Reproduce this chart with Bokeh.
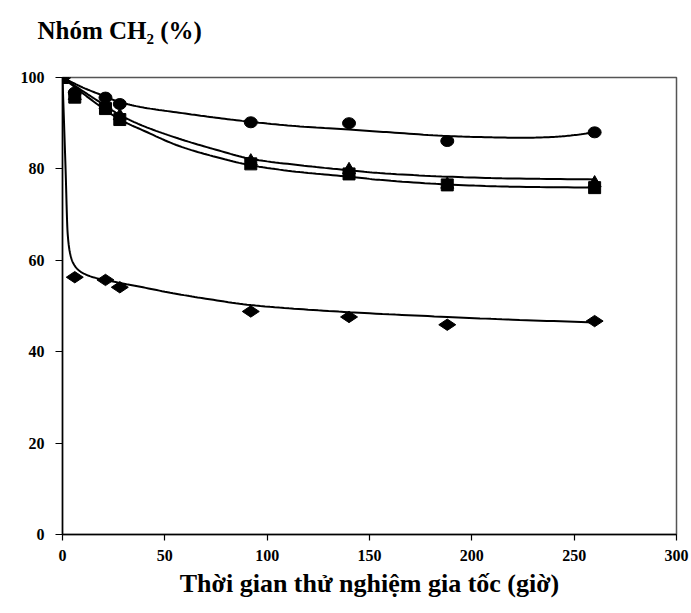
import numpy as np
from bokeh.plotting import figure
from bokeh.models import Range1d, FixedTicker
from bokeh.embed import file_html
from bokeh.resources import INLINE

# ---- data ----
hours = [0, 6, 21, 28, 92, 140, 188, 260]
circle_vals = [100, 96.7, 95.6, 94.2, 90.2, 90.0, 86.1, 88.0]
triangle_vals = [100, 96.0, 94.0, 91.6, 81.7, 79.8, 76.6, 76.9]
square_vals = [100, 95.7, 93.2, 90.8, 81.1, 78.9, 76.5, 75.9]
diamond_vals = [100, 56.3, 55.7, 54.1, 48.8, 47.6, 45.9, 46.7]

# trend curves
circle_trend_x = [0, 10, 20, 28, 40, 57, 75, 92, 116, 140, 160, 188, 210, 225, 240, 250, 260]
circle_trend_y = [100, 97.8, 96.0, 94.6, 93.4, 92.3, 91.2, 90.3, 89.3, 88.6, 88.0, 87.2, 86.9, 86.8, 87.0, 87.4, 88.0]
triangle_trend_x = [0, 10, 20, 28, 40, 57, 75, 92, 116, 140, 155, 188, 220, 260]
triangle_trend_y = [100, 97.0, 94.1, 91.8, 89.3, 86.6, 84.2, 82.2, 80.8, 79.7, 79.1, 78.3, 77.9, 77.7]
square_trend_x = [0, 10, 20, 28, 40, 57, 75, 92, 116, 140, 155, 188, 220, 260]
square_trend_y = [100, 96.5, 93.2, 90.8, 88.3, 85.0, 82.6, 80.8, 79.3, 78.3, 77.6, 76.6, 76.1, 75.9]
diamond_trend_x = [0, 1.5, 2.5, 3.5, 5, 7.5, 10, 15, 22, 38, 54, 70, 92, 120, 150, 188, 220, 260]
diamond_trend_y = [100, 80, 66, 62, 59.6, 58.0, 57.2, 56.3, 55.6, 54.2, 52.8, 51.6, 50.2, 49.2, 48.4, 47.6, 47.0, 46.4]

x_ticks = [0, 50, 100, 150, 200, 250, 300]
y_ticks = [0, 20, 40, 60, 80, 100]

y_title = "Nhóm CH\u2082 (%)"
x_title = "Thời gian thử nghiệm gia tốc (giờ)"


def pchip(x, y, n=12):
    x = np.asarray(x, float)
    y = np.asarray(y, float)
    h = np.diff(x)
    d = np.diff(y) / h
    m = np.zeros_like(y)
    m[0] = d[0]
    m[-1] = d[-1]
    for k in range(1, len(x) - 1):
        if d[k - 1] * d[k] <= 0:
            m[k] = 0.0
        else:
            w1 = 2 * h[k] + h[k - 1]
            w2 = h[k] + 2 * h[k - 1]
            m[k] = (w1 + w2) / (w1 / d[k - 1] + w2 / d[k])
    xs, ys = [], []
    for k in range(len(x) - 1):
        t = np.linspace(0, 1, n, endpoint=False)
        h00 = 2 * t**3 - 3 * t**2 + 1
        h10 = t**3 - 2 * t**2 + t
        h01 = -2 * t**3 + 3 * t**2
        h11 = t**3 - t**2
        xs.extend(x[k] + t * h[k])
        ys.extend(h00 * y[k] + h10 * h[k] * m[k] + h01 * y[k + 1] + h11 * h[k] * m[k + 1])
    xs.append(x[-1])
    ys.append(y[-1])
    return xs, ys


FONT = "Liberation Serif"

p = figure(width=691, height=613, output_backend="svg", toolbar_location=None,
           x_range=Range1d(0, 300), y_range=Range1d(0, 100),
           min_border_left=62, min_border_right=15, min_border_top=77, min_border_bottom=79)
p.grid.visible = False
p.outline_line_color = "#555555"
p.outline_line_width = 1.5
p.background_fill_color = "white"
p.border_fill_color = "white"

# a trailing blank line lifts the title away from the plot frame
p.title.text = y_title + "\n "
p.title.align = "left"
p.title.offset = -25
p.title.standoff = 14
p.title.text_font = FONT
p.title.text_font_style = "bold"
p.title.text_font_size = "25px"
p.title.text_color = "black"

for ax, ticks in ((p.xaxis, x_ticks), (p.yaxis, y_ticks)):
    ax.ticker = FixedTicker(ticks=ticks)
    ax.minor_tick_line_color = None
    ax.major_tick_in = 0
    ax.axis_line_color = "black"
    ax.axis_line_width = 1.5
    ax.major_tick_line_color = "black"
    ax.major_tick_line_width = 1.2
    ax.major_label_text_font = FONT
    ax.major_label_text_font_style = "bold"
    ax.major_label_text_font_size = "16px"
    ax.major_label_text_color = "black"
p.xaxis.major_tick_out = 6
p.yaxis.major_tick_out = 7
p.xaxis.major_label_standoff = 9
p.yaxis.major_label_standoff = 11

p.xaxis.axis_label = x_title
p.xaxis.axis_label_text_font = FONT
p.xaxis.axis_label_text_font_style = "bold"
p.xaxis.axis_label_text_font_size = "26px"
p.xaxis.axis_label_text_color = "black"
p.xaxis.axis_label_standoff = 5

for tx, ty in ((circle_trend_x, circle_trend_y), (triangle_trend_x, triangle_trend_y),
               (square_trend_x, square_trend_y), (diamond_trend_x, diamond_trend_y)):
    sx, sy = pchip(tx, ty)
    p.line(sx, sy, line_color="black", line_width=2)

p.scatter(hours, diamond_vals, marker="diamond", size=17, angle=np.pi / 2, color="black")
p.scatter(hours, triangle_vals, marker="triangle", size=13, color="black")
p.scatter(hours, square_vals, marker="square", size=12, color="black")
p.ellipse(hours, circle_vals, width=13, height=11, width_units="screen", height_units="screen",
          color="black")

open("out.html", "w").write(file_html(p, INLINE))
